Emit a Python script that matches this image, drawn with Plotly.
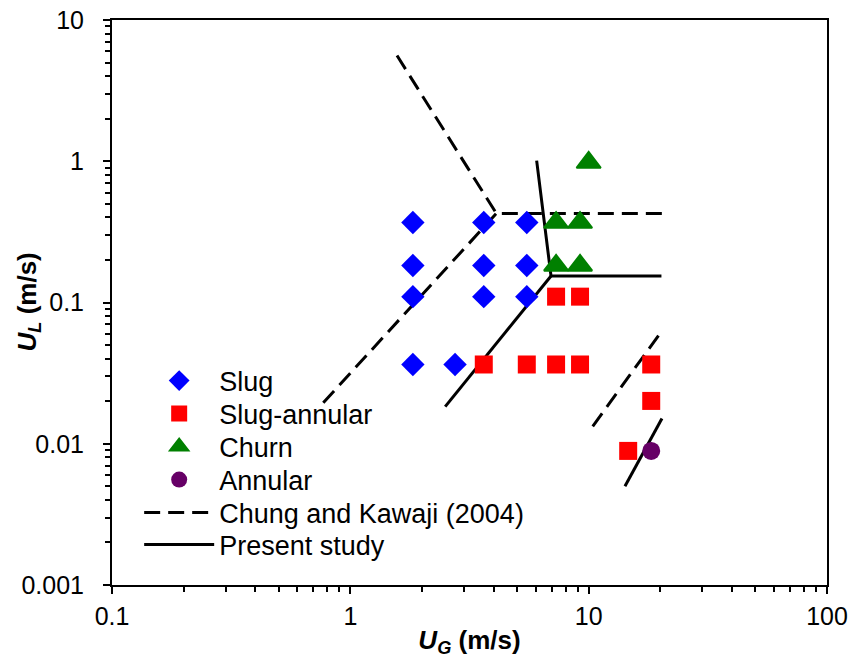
import plotly.graph_objects as go

# Flow-regime observations (superficial velocities, m/s)
slug_ug = [1.83, 1.83, 1.83, 1.83, 2.75, 3.63, 3.63, 3.63, 5.5, 5.5, 5.5]
slug_ul = [0.368, 0.183, 0.110, 0.0364, 0.0364, 0.368, 0.183, 0.110, 0.368, 0.183, 0.110]

slug_ann_ug = [3.63, 5.5, 7.3, 9.2, 18.3, 7.3, 9.2, 18.3, 14.65]
slug_ann_ul = [0.0364, 0.0364, 0.0364, 0.0364, 0.0364, 0.110, 0.110, 0.0201, 0.0089]

churn_ug = [7.3, 9.2, 7.3, 9.2, 10.0]
churn_ul = [0.368, 0.368, 0.183, 0.183, 0.98]

annular_ug = [18.3]
annular_ul = [0.0089]

# Transition boundaries of Chung and Kawaji (2004)
ck_upper_ug = [1.57, 4.1, 20.3]
ck_upper_ul = [5.6, 0.427, 0.427]
ck_left_ug = [0.77, 4.1]
ck_left_ul = [0.0195, 0.427]
ck_right_ug = [10.4, 20.5]
ck_right_ul = [0.0133, 0.0645]

# Transition boundaries of the present study
ps_upper_ug = [6.05, 6.95, 20.2]
ps_upper_ul = [1.01, 0.154, 0.154]
ps_left_ug = [2.5, 6.95]
ps_left_ul = [0.0183, 0.154]
ps_right_ug = [14.2, 20.3]
ps_right_ul = [0.0050, 0.0151]

x_ticks = [0.1, 1, 10, 100]
x_ticktext = ["0.1", "1", "10", "100"]
y_ticks = [0.001, 0.01, 0.1, 1, 10]
y_ticktext = ["0.001", "0.01", "0.1", "1", "10"]

FONT = "Liberation Sans, Arial, sans-serif"
DASH = "16px,8px"
LEGEND_FONT = dict(family=FONT, size=27, color="black")
TITLE_FONT = dict(family=FONT, size=26, color="black")

fig = go.Figure()

# Boundary lines (drawn underneath the markers)
for i, (xs, ys) in enumerate([(ck_upper_ug, ck_upper_ul), (ck_left_ug, ck_left_ul), (ck_right_ug, ck_right_ul)]):
    fig.add_trace(go.Scatter(x=xs, y=ys, mode="lines", name="Chung and Kawaji (2004)",
                             line=dict(color="black", width=3, dash=DASH),
                             legend="legend5", showlegend=(i == 0)))
for i, (xs, ys) in enumerate([(ps_upper_ug, ps_upper_ul), (ps_left_ug, ps_left_ul), (ps_right_ug, ps_right_ul)]):
    fig.add_trace(go.Scatter(x=xs, y=ys, mode="lines", name="Present study",
                             line=dict(color="black", width=3),
                             legend="legend6", showlegend=(i == 0)))

# Observed regimes
fig.add_trace(go.Scatter(x=slug_ug, y=slug_ul, mode="markers", name="Slug",
                         marker=dict(symbol="diamond", size=18, color="#0000FF"),
                         legend="legend", showlegend=True))
fig.add_trace(go.Scatter(x=slug_ann_ug, y=slug_ann_ul, mode="markers", name="Slug-annular",
                         marker=dict(symbol="square", size=18, color="#FF0000"),
                         legend="legend2"))
fig.add_trace(go.Scatter(x=churn_ug, y=churn_ul, mode="markers", name="Churn",
                         marker=dict(symbol="triangle-up", size=21, color="#008000",
                                     line=dict(color="#008000", width=2)),
                         legend="legend3"))
fig.add_trace(go.Scatter(x=annular_ug, y=annular_ul, mode="markers", name="Annular",
                         marker=dict(symbol="circle", size=18, color="#660066"),
                         legend="legend4"))

minor_x = [m * 10 ** e for e in range(-1, 2) for m in range(2, 10)]
minor_y = [m * 10 ** e for e in range(-3, 1) for m in range(2, 10)]

axis_common = dict(
    showline=True, linecolor="black", linewidth=2, mirror=True,
    ticks="outside", ticklen=7, tickwidth=2, tickcolor="black",
    showgrid=False, zeroline=False, automargin=False,
    tickfont=dict(family=FONT, size=25, color="black"),
)

fig.update_xaxes(
    type="log", range=[-1, 2], tickvals=x_ticks, ticktext=x_ticktext,
    minor=dict(tickvals=minor_x, ticks="outside", ticklen=5, tickwidth=2, tickcolor="black", showgrid=False),
    title=dict(text="<b><i>U</i><sub><i>G</i></sub> (m/s)</b>", font=TITLE_FONT, standoff=6),
    ticklabelstandoff=1,
    **axis_common,
)
fig.update_yaxes(
    type="log", range=[-3, 1], tickvals=y_ticks, ticktext=y_ticktext,
    minor=dict(tickvals=minor_y, ticks="outside", ticklen=5, tickwidth=2, tickcolor="black", showgrid=False),
    ticklabelstandoff=14,
    **axis_common,
)

PLOT_LEFT, PLOT_RIGHT = 112, 827
PLOT_TOP, PLOT_BOTTOM = 20, 585

# Vertical axis title placed beside the tick labels
fig.add_annotation(
    text="<b><i>U</i><sub><i>L</i></sub> (m/s)</b>", font=TITLE_FONT, textangle=-90,
    xref="paper", yref="paper", x=(28 - PLOT_LEFT) / (PLOT_RIGHT - PLOT_LEFT), y=0.5,
    xanchor="center", yanchor="middle", showarrow=False,
)

# One single-entry legend per row, each placed at its own height
legend_rows_px = [381, 414, 447, 480, 513, 545]
legend_x = 0.038


def row_y(py):
    return (PLOT_BOTTOM - py) / (PLOT_BOTTOM - PLOT_TOP)


legend_layout = {}
for k, py in enumerate(legend_rows_px):
    key = "legend" if k == 0 else f"legend{k + 1}"
    legend_layout[key] = dict(x=legend_x, y=row_y(py), xanchor="left", yanchor="middle",
                              bgcolor="rgba(0,0,0,0)", itemwidth=70, font=LEGEND_FONT,
                              visible=True)

fig.update_layout(
    width=854, height=658, showlegend=True,
    margin=dict(l=PLOT_LEFT, r=854 - PLOT_RIGHT, t=PLOT_TOP, b=658 - PLOT_BOTTOM),
    paper_bgcolor="white", plot_bgcolor="white",
    font=dict(family=FONT, size=24, color="black"),
    **legend_layout,
)

fig.write_html("out.html")
